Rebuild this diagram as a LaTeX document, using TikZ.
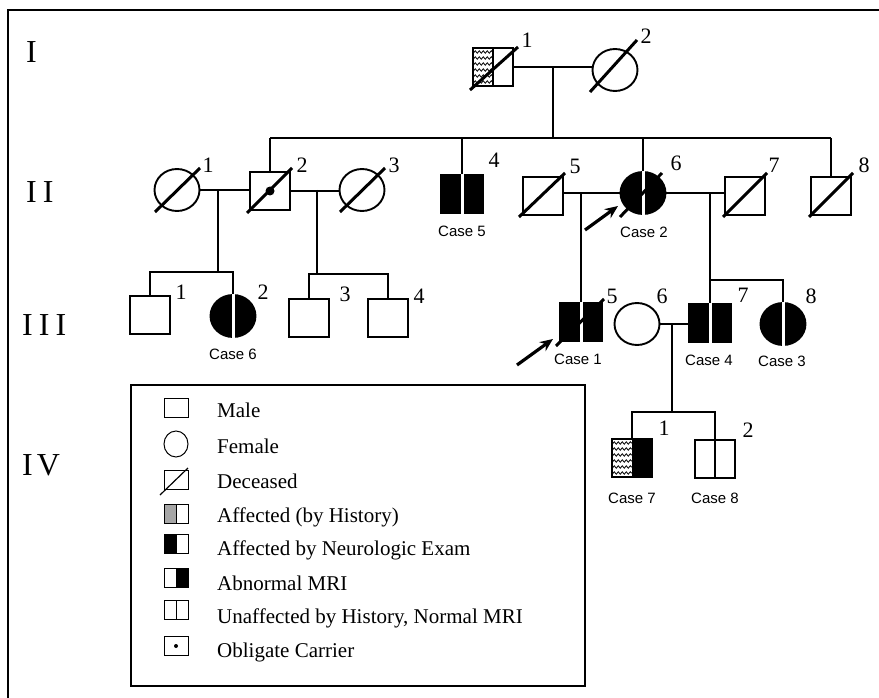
\documentclass[tikz,border=0pt]{standalone}
\usepackage{fontspec}
\setmainfont{Liberation Serif}
\newfontfamily\casefont{Liberation Sans}
\usetikzlibrary{shapes.geometric,arrows.meta,decorations.pathmorphing,calc}
\newcommand\pedwavy{\foreach \k in {0,...,5}{\draw[wavy] ([xshift=-3pt,yshift={-4pt-\k*6pt}]path picture bounding box.north west) -- ([yshift={-4pt-\k*6pt}]path picture bounding box.north);}}
\tikzset{
 ln/.style={line width=1.9pt},
 male/.style={draw, rectangle, line width=1.9pt, minimum width=40pt, minimum height=38pt, inner sep=0pt},
 female/.style={draw, ellipse, line width=1.9pt, minimum width=45pt, minimum height=42pt, inner sep=0pt},
 slash/.style={line width=3pt},
 gap/.style={white, line width=3pt},
 num/.style={font=\fontsize{22}{22}\selectfont, inner sep=0pt},
 gen/.style={font=\fontsize{32}{32}\selectfont, inner sep=0pt, anchor=west},
 case/.style={font=\casefont\fontsize{15}{15}\selectfont, inner sep=0pt},
 legtext/.style={font=\fontsize{21}{21}\selectfont, anchor=base west, inner sep=0pt},
 lmale/.style={draw, rectangle, line width=1pt, minimum width=24pt, minimum height=19pt, inner sep=0pt},
 lfemale/.style={draw, ellipse, line width=1pt, minimum width=24pt, minimum height=26pt, inner sep=0pt},
 wavy/.style={line width=0.8pt, decorate, decoration={snake, amplitude=1.2pt, segment length=4pt}},
 pointer/.style={line width=3.2pt, -{Stealth[length=13pt,width=11pt]}},
 lefthalf/.style={path picture={\fill[#1] (path picture bounding box.north west) rectangle (path picture bounding box.south);}},
 righthalf/.style={path picture={\fill[#1] (path picture bounding box.north) rectangle (path picture bounding box.south east);}},
 histhalf/.style={path picture={\pedwavy}},
 histblack/.style={path picture={\fill[black] (path picture bounding box.north) rectangle (path picture bounding box.south east);\pedwavy}},
}
\begin{document}
\begin{tikzpicture}[x=1pt,y=-1pt]
\useasboundingbox (0,0) rectangle (879,698);
% frame
\coordinate (ftl) at (8,10); \coordinate (ftr) at (879,10); \coordinate (fbl) at (8,698);
\draw[ln] (ftr) -- (ftl) -- (fbl);
% generation labels
\node[gen] (gI) at (26,52) {I};
\node[gen] (gII) at (26,192) {I\hspace{6pt}I};
\node[gen] (gIII) at (22,325) {I\hspace{6pt}I\hspace{6pt}I};
\node[gen] (gIV) at (22,465) {I\hspace{4pt}V};

% ---------- Generation I
\node[male, histhalf] (I1) at (493,67) {};
\draw[line width=1.4pt] (I1.north) -- (I1.south);
\draw[slash] ([shift={(-23,23)}]I1.center) -- ([shift={(25,-20)}]I1.center);
\node[female] (I2) at (615,70) {};
\draw[slash] ([shift={(-25,22)}]I2.center) -- ([shift={(22,-30)}]I2.center);
\node[num] (nI1) at (527,40) {1};
\node[num] (nI2) at (646,36) {2};
\draw[ln] (I1.east) -- (I1.east -| I2.west);
\coordinate (dI) at (553,67);
\coordinate (sII) at (553,138);
\draw[ln] (dI) -- (sII);

% ---------- Generation II
\node[female] (II1) at (177,190) {};
\draw[slash] ([shift={(-22,22)}]II1.center) -- ([shift={(23,-22)}]II1.center);
\node[male] (II2) at (270,191) {};
\fill (II2.center) circle (4.5pt);
\draw[slash] ([shift={(-23,22)}]II2.center) -- ([shift={(22,-23)}]II2.center);
\node[female] (II3) at (362,190) {};
\draw[slash] ([shift={(-22,22)}]II3.center) -- ([shift={(23,-22)}]II3.center);
\node[male, fill=black, minimum width=43pt] (II4) at (462,194) {};
\draw[gap] (II4.north) -- (II4.south);
\node[male] (II5) at (543,196) {};
\draw[slash] ([shift={(-24,21)}]II5.center) -- ([shift={(22,-23)}]II5.center);
\node[female, fill=black] (II6) at (643,193) {};
\draw[gap] (II6.north) -- (II6.south);
\draw[slash] ([shift={(-23,24)}]II6.center) -- ([shift={(19,-20)}]II6.center);
\node[male] (II7) at (745,196) {};
\draw[slash] ([shift={(-22,21)}]II7.center) -- ([shift={(22,-23)}]II7.center);
\node[male] (II8) at (831,196) {};
\draw[slash] ([shift={(-22,21)}]II8.center) -- ([shift={(22,-23)}]II8.center);

\node[num] (nII1) at (208,165) {1};
\node[num] (nII2) at (302,165) {2};
\node[num] (nII3) at (394,165) {3};
\node[num] (nII4) at (494,160) {4};
\node[num] (nII5) at (575,166) {5};
\node[num] (nII6) at (676,163) {6};
\node[num] (nII7) at (774,165) {7};
\node[num] (nII8) at (864,165) {8};
\node[case] (c5) at (462,231) {Case 5};
\node[case] (c2) at (644,232) {Case 2};

\draw[ln] (II2.north |- sII) -- (II8.north |- sII);
\foreach \n in {II2,II4,II6,II8} \draw[ln] (\n.north) -- (\n.north |- sII);
\draw[ln] (II1.east) -- (II1.east -| II2.west);
\draw[ln] (II2.east) -- (II2.east -| II3.west);
\draw[ln] (II6.west) -- (II6.west -| II5.east);
\draw[ln] (II6.east) -- (II6.east -| II7.west);

\coordinate (a2t) at (585,230); \coordinate (a2h) at (618,206);
\draw[pointer] (a2t) -- (a2h);

% ---------- Generation III
\node[male] (III1) at (150,315) {};
\node[female, fill=black] (III2) at (233,316) {};
\draw[gap] (III2.north) -- (III2.south);
\node[male] (III3) at (309,318) {};
\node[male] (III4) at (388,318) {};
\coordinate (d12) at (218,190); \coordinate (s12) at (218,272);
\draw[ln] (d12) -- (s12);
\draw[ln] (III1.north) -- (III1.north |- s12) -- (III2.north |- s12) -- (III2.north);
\coordinate (d23) at (317,190); \coordinate (s23) at (317,274);
\draw[ln] (d23) -- (s23);
\draw[ln] (III3.north) -- (III3.north |- s23) -- (III4.north |- s23) -- (III4.north);

\node[male, fill=black, minimum width=42pt] (III5) at (581,322) {};
\draw[gap] (III5.north) -- (III5.south);
\draw[slash] ([shift={(-25,24)}]III5.center) -- ([shift={(23,-23)}]III5.center);
\draw[ln] (III5.north) -- (III5.north |- II6.west);
\node[female] (III6) at (637,324) {};
\node[male, fill=black, minimum width=42pt] (III7) at (710,323) {};
\draw[gap] (III7.north) -- (III7.south);
\node[female, fill=black] (III8) at (783,324) {};
\draw[gap] (III8.north) -- (III8.south);
\coordinate (s78) at (710,280);
\draw[ln] (III7.north) -- (s78) -- (s78 |- II6.east);
\draw[ln] (s78) -- (s78 -| III8.north) -- (III8.north);
\draw[ln] (III6.east) -- (III6.east -| III7.west);
\coordinate (d67) at (672,324); \coordinate (sIV) at (672,412);
\draw[ln] (d67) -- (sIV);

\node[num] (nIII1) at (181,292) {1};
\node[num] (nIII2) at (263,292) {2};
\node[num] (nIII3) at (345,294) {3};
\node[num] (nIII4) at (419,296) {4};
\node[num] (nIII5) at (612,296) {5};
\node[num] (nIII6) at (662,296) {6};
\node[num] (nIII7) at (743,295) {7};
\node[num] (nIII8) at (811,296) {8};
\node[case] (c6) at (233,354) {Case 6};
\node[case] (c1) at (578,359) {Case 1};
\node[case] (c4) at (709,360) {Case 4};
\node[case] (c3) at (782,361) {Case 3};
\coordinate (a1t) at (517,365); \coordinate (a1h) at (553,339);
\draw[pointer] (a1t) -- (a1h);

% ---------- Generation IV
\node[male, histblack] (IV1) at (632,458) {};
\node[male] (IV2) at (715,459) {};
\draw[ln] (IV2.north) -- (IV2.south);
\draw[ln] (IV1.north) -- (IV1.north |- sIV) -- (IV2.north |- sIV) -- (IV2.north);
\node[num] (nIV1) at (664,428) {1};
\node[num] (nIV2) at (748,430) {2};
\node[case] (c7) at (632,498) {Case 7};
\node[case] (c8) at (715,498) {Case 8};

% ---------- Legend
\coordinate (lbtl) at (131,385); \coordinate (lbbr) at (585,686);
\draw[ln] (lbtl) rectangle (lbbr);
\node[lmale] (L1) at (176,408) {};
\node[legtext] (T1) at (217,417) {Male};
\node[lfemale] (L2) at (176,444) {};
\node[legtext] (T2) at (217,453) {Female};
\node[lmale] (L3) at (176,480) {};
\draw[line width=1.2pt] ([shift={(-16,15)}]L3.center) -- ([shift={(12,-12)}]L3.center);
\node[legtext] (T3) at (217,488) {Deceased};
\node[lmale, lefthalf=black!35] (L4) at (176,514) {};
\draw[line width=1pt] (L4.north) -- (L4.south);
\node[legtext] (T4) at (217,522) {Affected (by History)};
\node[lmale, lefthalf=black] (L5) at (176,544) {};
\draw[line width=1pt] (L5.north) -- (L5.south);
\node[legtext] (T5) at (217,555) {Affected by Neurologic Exam};
\node[lmale, righthalf=black] (L6) at (176,578) {};
\draw[line width=1pt] (L6.north) -- (L6.south);
\node[legtext] (T6) at (217,590) {Abnormal MRI};
\node[lmale] (L7) at (176,610) {};
\draw[line width=1pt] (L7.north) -- (L7.south);
\node[legtext] (T7) at (217,623) {Unaffected by History, Normal MRI};
\node[lmale] (L8) at (176,646) {};
\fill (L8.center) circle (2pt);
\node[legtext] (T8) at (217,657) {Obligate Carrier};
\end{tikzpicture}
\end{document}
